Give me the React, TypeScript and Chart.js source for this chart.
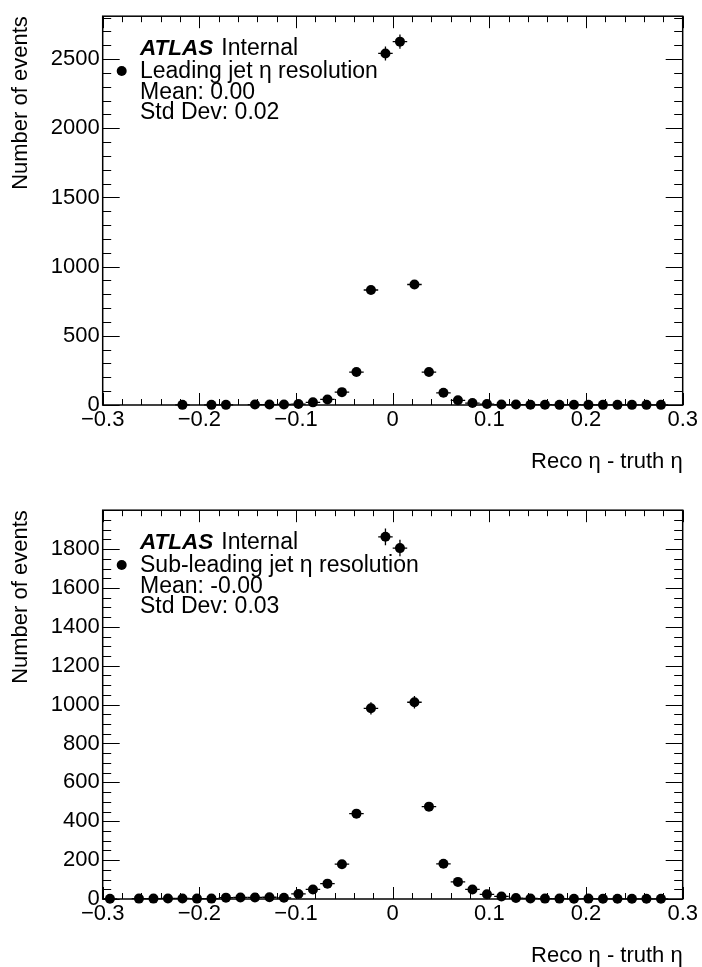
import React, { useEffect, useRef } from 'react';
import { Chart, registerables } from 'chart.js';

Chart.register(...registerables);

const FONT = "'Liberation Sans', Arial, Helvetica, sans-serif";

// x axis (bin centres of 0.015-wide bins, empty bins omitted)
const xTickValues = [-0.3, -0.2, -0.1, 0, 0.1, 0.2, 0.3];
const xMin = -0.3;
const xMax = 0.3;
const xMinorStep = 0.02;
const binHalfWidth = 0.0075;

// Leading jet
const leadBinCenters = [
  -0.2175, -0.1875, -0.1725, -0.1425, -0.1275, -0.1125, -0.0975, -0.0825, -0.0675, -0.0525,
  -0.0375, -0.0225, -0.0075, 0.0075, 0.0225, 0.0375, 0.0525, 0.0675, 0.0825, 0.0975,
  0.1125, 0.1275, 0.1425, 0.1575, 0.1725, 0.1875, 0.2025, 0.2175, 0.2325, 0.2475, 0.2625, 0.2775,
];
const leadCounts = [
  1, 1, 1, 3, 3, 4, 7, 19, 40, 93,
  238, 831, 2541, 2626, 871, 238, 88, 34, 14, 7,
  3, 3, 2, 2, 1, 2, 1, 1, 1, 1, 1, 1,
];
const leadYTicks = [0, 500, 1000, 1500, 2000, 2500];
const leadYMax = 2810;
const leadYMinorStep = 100;
const leadLegend = ['Leading jet \u03b7 resolution', 'Mean: 0.00', 'Std Dev: 0.02'];

// Sub-leading jet
const subBinCenters = [
  -0.2925, -0.2625, -0.2475, -0.2325, -0.2175, -0.2025, -0.1875, -0.1725, -0.1575, -0.1425,
  -0.1275, -0.1125, -0.0975, -0.0825, -0.0675, -0.0525, -0.0375, -0.0225, -0.0075, 0.0075,
  0.0225, 0.0375, 0.0525, 0.0675, 0.0825, 0.0975, 0.1125, 0.1275, 0.1425, 0.1575,
  0.1725, 0.1875, 0.2025, 0.2175, 0.2325, 0.2475, 0.2625, 0.2775,
];
const subCounts = [
  1, 2, 2, 3, 3, 2, 2, 7, 8, 8,
  9, 6, 26, 49, 79, 179, 439, 981, 1863, 1805,
  1012, 475, 181, 88, 49, 24, 13, 5, 3, 2,
  2, 1, 2, 1, 1, 1, 1, 1,
];
const subYTicks = [0, 200, 400, 600, 800, 1000, 1200, 1400, 1600, 1800];
const subYMax = 2000;
const subYMinorStep = 50;
const subLegend = ['Sub-leading jet \u03b7 resolution', 'Mean: -0.00', 'Std Dev: 0.03'];

const xTitle = 'Reco \u03b7 - truth \u03b7';
const yTitle = 'Number of events';

const W = 702;
const H = 473;

function fmtX(v: number): string {
  const r = Math.round(v * 10) / 10;
  if (r === 0) return '0';
  return (r < 0 ? '\u2212' : '') + Math.abs(r).toFixed(1);
}

const rootStyle = {
  id: 'rootStyle',
  beforeDatasetsDraw(chart: any) {
    const { ctx } = chart;
    const xs = chart.scales.x;
    const ys = chart.scales.y;
    const data = chart.data.datasets[0].data as { x: number; y: number }[];
    ctx.save();
    ctx.strokeStyle = '#000';
    ctx.lineWidth = 1.3;
    for (const p of data) {
      const px = xs.getPixelForValue(p.x);
      const py = ys.getPixelForValue(p.y);
      const e = Math.sqrt(p.y);
      ctx.beginPath();
      ctx.moveTo(xs.getPixelForValue(p.x - binHalfWidth), py);
      ctx.lineTo(xs.getPixelForValue(p.x + binHalfWidth), py);
      ctx.moveTo(px, ys.getPixelForValue(p.y + e));
      ctx.lineTo(px, ys.getPixelForValue(Math.max(0, p.y - e)));
      ctx.stroke();
    }
    ctx.restore();
  },
  afterDraw(chart: any, _args: any, opts: any) {
    const { ctx, chartArea } = chart;
    const xs = chart.scales.x;
    const ys = chart.scales.y;
    const { left, right, top, bottom } = chartArea;
    ctx.save();
    ctx.strokeStyle = '#000';
    // ticks
    ctx.lineWidth = 1;
    const xMajorLen = 12;
    const yMajorLen = 17;
    ctx.beginPath();
    const nx = Math.round((xMax - xMin) / xMinorStep);
    for (let i = 0; i <= nx; i++) {
      const v = xMin + i * xMinorStep;
      const px = Math.round(xs.getPixelForValue(v)) + 0.5;
      const len = i % 5 === 0 ? xMajorLen : xMajorLen / 2;
      ctx.moveTo(px, bottom);
      ctx.lineTo(px, bottom - len);
      ctx.moveTo(px, top);
      ctx.lineTo(px, top + len);
    }
    const ymax = ys.max;
    const step = opts.yMinorStep;
    const majorEvery = opts.yMajorEvery;
    for (let i = 0; i * step <= ymax; i++) {
      const v = i * step;
      const py = Math.round(ys.getPixelForValue(v)) + 0.5;
      const len = i % majorEvery === 0 ? yMajorLen : yMajorLen / 2;
      ctx.moveTo(left, py);
      ctx.lineTo(left + len, py);
      ctx.moveTo(right, py);
      ctx.lineTo(right - len, py);
    }
    ctx.stroke();
    // frame
    ctx.lineWidth = 1.5;
    ctx.strokeRect(left, top, right - left, bottom - top);

    // legend / labels
    const tx = 140;
    ctx.fillStyle = '#000';
    ctx.textBaseline = 'alphabetic';
    ctx.textAlign = 'left';
    ctx.font = `italic bold 22.5px ${FONT}`;
    ctx.fillText('ATLAS', tx, 55);
    const w = ctx.measureText('ATLAS').width;
    ctx.font = `23px ${FONT}`;
    ctx.fillText('Internal', tx + w + 8, 55);
    const lines: string[] = opts.lines;
    const baselines = [77.5, 99, 118.5];
    lines.forEach((t, i) => ctx.fillText(t, tx, baselines[i]));
    ctx.beginPath();
    ctx.arc(121.7, 71, 5, 0, Math.PI * 2);
    ctx.fill();
    ctx.restore();
  },
};

function makeConfig(xs: number[], ys: number[], yTicks: number[], yMax: number, yMinorStep: number, lines: string[]): any {
  const data = xs.map((x, i) => ({ x, y: ys[i] }));
  const majorEvery = Math.round((yTicks[1] - yTicks[0]) / yMinorStep);
  return {
    type: 'scatter',
    data: {
      datasets: [
        {
          data,
          pointRadius: 5,
          pointHoverRadius: 5,
          pointBackgroundColor: '#000',
          pointBorderColor: '#000',
          pointBorderWidth: 0,
          showLine: false,
          clip: false,
        },
      ],
    },
    plugins: [rootStyle],
    options: {
      animation: false,
      responsive: false,
      events: [],
      layout: { padding: { top: 11.7, left: 0, right: W - 682.7, bottom: 0 } },
      plugins: {
        legend: { display: false },
        tooltip: { enabled: false },
        rootStyle: { yMinorStep, yMajorEvery: majorEvery, lines },
      },
      scales: {
        x: {
          type: 'linear',
          position: 'bottom',
          min: xMin,
          max: xMax,
          afterBuildTicks: (scale: any) => {
            scale.ticks = xTickValues.map((v) => ({ value: v }));
          },
          afterFit: (scale: any) => {
            scale.height = H - 405;
          },
          grid: { display: true, drawOnChartArea: false, drawTicks: false },
          border: { display: false },
          ticks: {
            color: '#000',
            padding: 1.5,
            maxRotation: 0,
            autoSkip: false,
            font: { family: FONT, size: 22 },
            callback: (v: number) => fmtX(v),
          },
          title: {
            display: true,
            text: xTitle,
            align: 'end',
            color: '#000',
            font: { family: FONT, size: 22, lineHeight: 1 },
            padding: { top: 0, bottom: 0 },
          },
        },
        y: {
          type: 'linear',
          position: 'left',
          min: 0,
          max: yMax,
          afterBuildTicks: (scale: any) => {
            scale.ticks = yTicks.map((v) => ({ value: v }));
          },
          afterFit: (scale: any) => {
            scale.width = 102.7;
          },
          grid: { display: true, drawOnChartArea: false, drawTicks: false },
          border: { display: false },
          ticks: {
            color: '#000',
            padding: 3,
            autoSkip: false,
            font: { family: FONT, size: 22 },
            callback: (v: number) => String(Math.round(v)),
          },
          title: {
            display: true,
            text: yTitle,
            align: 'end',
            color: '#000',
            font: { family: FONT, size: 22 },
            padding: { top: 7.5, bottom: 0 },
          },
        },
      },
    },
  };
}

function Panel(props: { xs: number[]; ys: number[]; yTicks: number[]; yMax: number; yMinorStep: number; lines: string[]; top: number }) {
  const ref = useRef<HTMLCanvasElement | null>(null);
  useEffect(() => {
    if (!ref.current) return;
    const chart = new Chart(ref.current, makeConfig(props.xs, props.ys, props.yTicks, props.yMax, props.yMinorStep, props.lines));
    return () => chart.destroy();
  }, []);
  return (
    <div style={{ position: 'absolute', left: 0, top: props.top, width: W, height: H }}>
      <canvas ref={ref} width={W} height={H} style={{ display: 'block', width: W, height: H }} />
    </div>
  );
}

export default function App() {
  return (
    <div style={{ position: 'fixed', left: 0, top: 0, width: W, height: 967, background: '#fff', overflow: 'hidden' }}>
      <Panel xs={leadBinCenters} ys={leadCounts} yTicks={leadYTicks} yMax={leadYMax} yMinorStep={leadYMinorStep} lines={leadLegend} top={0} />
      <Panel xs={subBinCenters} ys={subCounts} yTicks={subYTicks} yMax={subYMax} yMinorStep={subYMinorStep} lines={subLegend} top={494} />
    </div>
  );
}
